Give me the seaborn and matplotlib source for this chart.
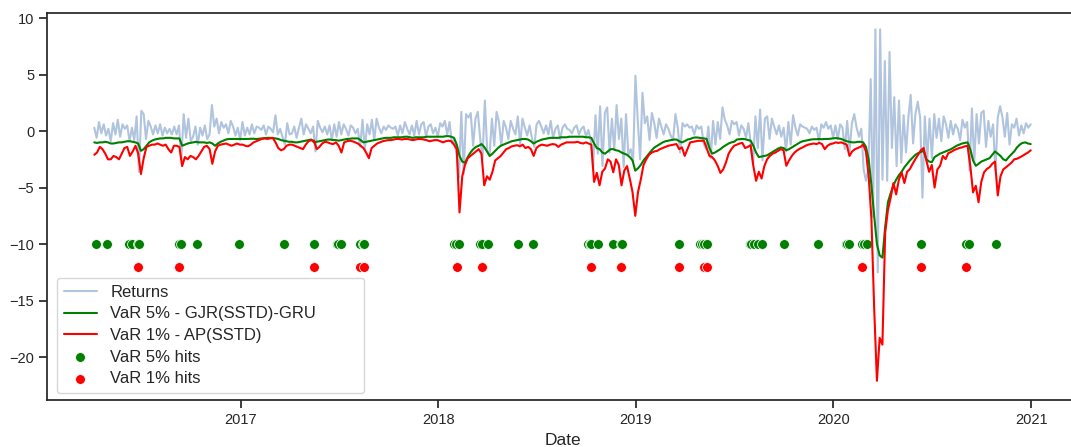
import pandas as pd
import seaborn as sns
import matplotlib.pyplot as plt

# daily returns: 7 samples per month, Apr 2016 .. Dec 2020
ret_2016 = [0.3, -0.6, 0.8, -0.2, 0.6, -0.4, 0.2,
            -0.9, 0.7, -0.3, 1.0, -0.5, 0.6, 0.2,
            0.5, -0.9, 0.3, -0.8, 1.3, -3.6, 1.8,
            1.5, -0.7, 0.9, 0.4, -0.3, 0.5, -0.2,
            0.6, -0.4, 0.3, -0.2, 0.2, -0.3, 0.4,
            -0.3, 0.5, -2.5, 1.5, -0.6, 1.1, -0.9,
            -0.5, 0.4, -1.2, 0.3, -0.4, 0.5, -0.7,
            -0.3, 2.3, 0.4, 1.1, -0.2, 0.8, 0.3,
            0.6, -0.2, 0.9, 0.4, -0.4, 0.3, -0.8]
ret_2017 = [0.8, -0.4, 0.3, -0.3, 0.6, -0.2, 0.4,
            0.3, 0.1, 0.5, -0.3, 0.4, 0.2, -0.1,
            1.4, -0.3, 0.2, -0.5, -1.2, 0.7, -0.3,
            -0.2, 0.4, -0.6, 0.3, 1.1, -0.3, 0.6,
            0.2, -0.2, 0.4, -1.8, 0.9, 0.3, -0.1,
            0.4, -0.3, 0.5, -0.8, 0.6, -0.5, 0.8,
            -0.3, 0.6, 0.2, -0.4, 0.5, 0.3, -0.2,
            0.2, -1.4, 1.0, -1.6, 0.6, -0.3, 1.0,
            -0.8, 1.1, 0.3, -0.2, 0.4, 0.1, 0.5,
            0.3, 0.2, 0.4, -0.4, 0.5, -0.2, 0.8,
            0.2, -0.3, 0.5, -0.4, 0.9, -0.3, 0.6,
            0.8, -0.5, 0.4, 0.6, -0.2, 0.3, -0.5]
ret_2018 = [0.7, 0.4, 0.9, -0.3, 0.8, -1.1, -0.7,
            -2.1, -4.1, 1.7, -3.8, 1.5, 1.2, 1.6,
            -1.3, 1.1, 1.7, -0.6, -2.5, 2.7, -1.7,
            -2.2, 1.1, -1.3, 1.7, 0.8, -1.3, 0.9,
            0.3, -0.7, 0.9, 0.2, -0.3, 1.3, -1.2,
            1.1, 0.3, -0.4, 0.5, -0.6, -1.4, 0.6,
            0.9, 0.4, -0.2, 0.5, -0.3, 0.9, -0.6,
            0.2, 0.5, -0.7, 0.3, 0.6, 0.2, 0.1,
            -0.2, 0.3, 0.5, -0.3, 0.2, 0.4, -0.5,
            0.1, -0.8, -3.3, 1.4, -2.0, 2.2, -3.1,
            1.6, 2.1, -1.9, 1.1, -1.7, 2.3, -0.7,
            1.1, -3.2, 1.5, -2.1, -1.6, -2.7, 4.9]
ret_2019 = [0.9, -2.5, 3.4, 0.7, 1.3, -0.8, 1.6,
            0.7, -0.6, 1.1, 0.4, -0.3, 0.6, 0.2,
            -0.4, -0.8, 1.5, 0.3, -1.9, 0.7, 0.4,
            0.6, 0.3, 0.4, -0.3, 0.5, 0.2, 0.4,
            -1.1, -1.6, 0.4, -2.4, 0.9, -1.2, 0.8,
            -0.7, 2.1, 1.0, 0.5, -0.3, 0.9, 0.6,
            0.8, -0.4, 0.5, 0.2, -0.6, 0.7, -1.1,
            -3.0, 1.3, -1.5, 1.9, -2.6, 1.1, 1.3,
            -0.7, 1.1, 0.4, -0.3, 0.5, -0.5, 0.3,
            -1.8, 0.8, -1.2, 1.4, 0.3, -0.4, 0.6,
            0.4, 0.3, 0.2, -0.2, 0.4, 0.1, 0.3,
            -0.9, 0.6, 0.3, 0.8, 0.2, 0.5, -0.6]
ret_2020 = [0.5, -0.7, 0.6, 0.3, -1.6, 0.9, -1.8,
            0.7, 1.5, 0.3, -0.5, 0.2, -3.4, -4.4,
            -3.4, 4.6, -7.6, 9.0, -12.5, 9.0, -4.3,
            6.2, -4.4, 7.0, -1.5, 3.0, -3.1, 2.7,
            -2.8, 1.4, -1.9, 1.2, 3.2, -1.1, 1.5,
            2.6, 1.2, -5.9, 1.3, -2.6, 1.1, -2.4,
            1.5, -0.6, 1.1, -0.9, 1.3, 0.6, -0.6,
            0.9, -0.3, 0.6, 0.2, -0.8, 1.0, 0.3,
            0.8, -3.5, 2.0, -2.8, 1.5, -1.1, 1.6,
            1.8, -1.4, 0.9, -0.5, 0.6, -3.5, 1.2,
            2.2, 1.2, -0.5, 1.6, -1.2, 0.6, 0.3,
            1.1, -0.4, 0.5, -0.2, 0.7, 0.3, 0.6]

# VaR 5% - GJR(SSTD)-GRU, 6 samples per month
var5_2016 = [-1.0, -1.05, -1.0, -1.0, -0.95, -1.0,
             -1.1, -1.1, -1.05, -1.0, -1.0, -0.95,
             -0.9, -0.9, -0.95, -1.0, -1.1, -1.75,
             -1.6, -1.3, -1.0, -0.85, -0.75, -0.7,
             -0.65, -0.65, -0.6, -0.6, -0.6, -0.65,
             -0.65, -0.65, -1.3, -1.2, -1.1, -1.05,
             -1.0, -0.95, -1.0, -1.0, -1.0, -1.05,
             -1.0, -1.1, -1.3, -1.1, -0.95, -0.85,
             -0.75, -0.7, -0.7, -0.7, -0.7, -0.7]
var5_2017 = [-0.7, -0.7, -0.7, -0.68, -0.68, -0.7,
             -0.68, -0.65, -0.62, -0.6, -0.6, -0.62,
             -0.65, -0.7, -0.8, -0.85, -0.9, -0.95,
             -0.95, -1.0, -1.0, -0.95, -0.9, -0.85,
             -0.8, -0.75, -1.0, -0.95, -0.9, -0.85,
             -0.8, -0.75, -0.75, -0.8, -0.8, -0.85,
             -0.8, -0.75, -0.7, -0.68, -0.65, -0.65,
             -0.65, -0.8, -1.0, -0.95, -0.9, -0.85,
             -0.8, -0.75, -0.7, -0.65, -0.6, -0.6,
             -0.6, -0.55, -0.55, -0.55, -0.55, -0.5,
             -0.5, -0.55, -0.6, -0.55, -0.55, -0.55,
             -0.55, -0.5, -0.5, -0.5, -0.5, -0.5]
var5_2018 = [-0.5, -0.5, -0.45, -0.45, -0.5, -0.6,
             -1.2, -2.2, -2.7, -2.8, -2.3, -1.9,
             -1.6, -1.4, -1.3, -1.15, -1.4, -1.8,
             -2.2, -2.0, -1.75, -1.5, -1.3, -1.2,
             -1.1, -1.0, -0.9, -0.85, -0.8, -0.75,
             -0.7, -0.7, -0.75, -0.9, -1.1, -0.95,
             -0.85, -0.75, -0.7, -0.65, -0.6, -0.6,
             -0.6, -0.6, -0.55, -0.55, -0.55, -0.5,
             -0.5, -0.5, -0.5, -0.5, -0.5, -0.55,
             -0.55, -0.6, -1.1, -1.5, -1.6, -1.9,
             -2.0, -1.8, -1.6, -1.6, -1.7, -1.75,
             -1.9, -2.0, -2.1, -2.3, -2.6, -3.5]
var5_2019 = [-3.3, -3.0, -2.6, -2.3, -2.0, -1.7,
             -1.45, -1.3, -1.15, -1.0, -0.9, -0.85,
             -0.8, -0.75, -0.75, -0.9, -1.0, -0.9,
             -0.75, -0.7, -0.6, -0.56, -0.58, -0.62,
             -0.65, -0.7, -1.5, -2.0, -1.9, -1.75,
             -1.6, -1.4, -1.25, -1.1, -1.0, -0.95,
             -0.75, -0.72, -0.7, -0.72, -0.78, -0.85,
             -1.3, -1.9, -2.3, -2.25, -2.2, -2.15,
             -2.0, -1.85, -1.7, -1.55, -1.45, -1.5,
             -1.7, -1.6, -1.45, -1.3, -1.15, -1.0,
             -0.9, -0.85, -0.8, -0.75, -0.72, -0.72,
             -0.7, -0.72, -0.7, -0.7, -0.68, -0.65]
var5_2020 = [-0.62, -0.65, -0.7, -0.8, -0.9, -0.95,
             -1.0, -1.0, -0.95, -0.95, -1.0, -1.4,
             -2.5, -4.8, -7.5, -10.0, -11.0, -11.2,
             -8.5, -6.3, -5.5, -4.8, -4.3, -3.9,
             -3.6, -3.2, -2.9, -2.6, -2.35, -2.1,
             -1.95, -1.85, -1.75, -2.5, -2.7, -2.75,
             -2.3, -2.15, -2.0, -1.9, -1.8, -1.7,
             -1.6, -1.45, -1.3, -1.2, -1.1, -1.05,
             -1.0, -1.6, -2.6, -3.07, -2.9, -2.7,
             -2.6, -2.5, -2.4, -2.1, -1.8, -2.0,
             -2.2, -2.5, -2.6, -2.3, -2.05, -1.8,
             -1.45, -1.2, -1.05, -1.0, -1.1, -1.15]

# VaR 1% - AP(SSTD), 6 samples per month
var1_2016 = [-2.1, -1.9, -1.4, -1.6, -2.0, -2.5,
             -2.5, -2.2, -2.3, -2.5, -2.0, -1.5,
             -1.4, -2.2, -1.8, -1.3, -2.0, -3.8,
             -2.4, -1.4, -1.3, -1.2, -1.2, -1.1,
             -1.2, -1.3, -1.2, -1.6, -1.9, -1.3,
             -1.3, -1.4, -3.1, -2.3, -2.5, -2.2,
             -2.3, -2.5, -2.2, -1.8, -1.4, -1.3,
             -1.6, -2.9, -1.8, -1.3, -1.2, -1.15,
             -1.1, -1.2, -1.3, -1.2, -1.1, -1.2]
var1_2017 = [-1.2, -1.3, -1.35, -1.2, -1.0, -0.9,
             -0.8, -0.7, -0.65, -0.7, -0.65, -0.6,
             -1.0, -1.5, -1.7, -1.6, -1.3, -1.2,
             -1.2, -1.3, -1.4, -1.5, -1.6, -1.2,
             -0.9, -0.8, -0.85, -1.6, -1.4, -1.1,
             -0.95, -1.0, -1.1, -1.15, -1.0, -1.3,
             -1.9, -1.0, -0.9, -0.85, -0.9, -1.0,
             -1.1, -1.3, -1.5, -1.9, -2.4, -1.5,
             -1.3, -1.1, -1.0, -0.9, -0.85, -0.8,
             -0.8, -0.75, -0.7, -0.7, -0.75, -0.7,
             -0.7, -0.75, -0.8, -0.75, -0.7, -0.7,
             -0.75, -0.8, -0.9, -0.85, -0.8, -0.8]
var1_2018 = [-0.9, -1.0, -0.9, -0.85, -0.9, -1.2,
             -1.6, -7.2, -4.0, -3.0, -2.4, -2.2,
             -2.0, -1.8, -1.6, -2.0, -4.8, -4.0,
             -4.3, -3.6, -2.6, -2.4, -2.2, -1.9,
             -1.6, -1.5, -1.35, -1.3, -1.25, -1.35,
             -1.2, -1.5, -1.4, -1.6, -2.2, -1.5,
             -1.3, -1.2, -1.25, -1.3, -1.2, -1.15,
             -1.2, -1.4, -1.2, -1.1, -1.0, -1.0,
             -1.0, -1.0, -0.95, -1.05, -1.1, -1.0,
             -1.1, -1.2, -4.5, -3.7, -4.8, -3.6,
             -3.3, -2.5, -2.7, -3.65, -2.5, -3.0,
             -4.8, -3.5, -3.1, -4.2, -5.4, -7.5]
var1_2019 = [-5.4, -4.3, -3.0, -2.5, -2.1, -1.9,
             -1.8, -1.75, -1.6, -1.5, -1.4, -1.3,
             -1.25, -1.2, -1.15, -1.6, -1.44, -2.2,
             -1.6, -1.0, -0.95, -0.9, -0.86, -0.86,
             -0.86, -1.5, -2.2, -2.3, -2.6, -3.07,
             -3.7, -3.4, -2.8, -2.0, -1.6, -1.3,
             -1.2, -1.1, -1.05, -1.5, -1.4, -1.25,
             -3.1, -4.4, -3.6, -4.2, -3.1, -2.5,
             -2.2, -2.0, -1.9, -1.75, -1.6, -1.7,
             -3.07, -2.6, -2.2, -1.9, -1.7, -1.55,
             -1.44, -1.3, -1.2, -1.15, -1.1, -1.15,
             -1.05, -1.15, -1.6, -1.3, -1.15, -1.1]
var1_2020 = [-1.0, -1.05, -1.0, -1.1, -1.2, -2.2,
             -1.8, -1.6, -1.5, -1.4, -1.2, -1.8,
             -4.0, -7.8, -15.7, -22.1, -18.3, -18.9,
             -9.0, -7.0, -5.9, -4.6, -5.6, -4.3,
             -3.65, -4.6, -3.6, -3.36, -2.9, -2.48,
             -2.1, -1.7, -1.5, -2.6, -3.6, -3.0,
             -5.0, -3.4, -3.07, -2.2, -2.48, -1.95,
             -1.85, -1.7, -1.59, -1.5, -1.44, -1.35,
             -1.3, -3.07, -5.43, -4.84, -6.3, -4.5,
             -3.65, -3.36, -3.2, -2.9, -2.7, -5.7,
             -4.0, -3.4, -3.2, -3.0, -2.8, -2.5,
             -2.45, -2.33, -2.2, -2.04, -1.9, -1.7]

# days where the return broke through the VaR
hits5 = ['2016-04-08', '2016-04-28', '2016-06-08', '2016-06-13', '2016-06-24',
         '2016-06-27', '2016-09-09', '2016-09-13', '2016-10-11', '2016-12-28',
         '2017-03-21', '2017-05-17', '2017-06-27', '2017-06-29', '2017-07-06',
         '2017-08-10', '2017-08-14', '2017-08-17',
         '2018-01-30', '2018-02-02', '2018-02-08', '2018-03-19', '2018-03-22',
         '2018-04-02', '2018-05-29', '2018-06-25', '2018-10-04', '2018-10-08',
         '2018-10-10', '2018-10-24', '2018-11-19', '2018-12-04', '2018-12-07',
         '2019-03-22', '2019-04-29', '2019-05-03', '2019-05-07', '2019-05-13',
         '2019-07-31', '2019-08-02', '2019-08-08', '2019-08-14', '2019-08-23',
         '2019-10-02', '2019-12-03', '2020-01-24', '2020-01-27', '2020-01-31',
         '2020-02-24', '2020-02-27', '2020-03-03', '2020-06-11', '2020-09-03',
         '2020-09-08', '2020-10-28']
hits1 = ['2016-06-24', '2016-09-09', '2017-05-17', '2017-08-10', '2017-08-17',
         '2018-02-05', '2018-03-22', '2018-10-10', '2018-12-04', '2019-03-22',
         '2019-05-07', '2019-05-13', '2020-02-24', '2020-06-11', '2020-09-03']
HIT5_LEVEL = -10
HIT1_LEVEL = -12

returns = ret_2016 + ret_2017 + ret_2018 + ret_2019 + ret_2020
var5 = var5_2016 + var5_2017 + var5_2018 + var5_2019 + var5_2020
var1 = var1_2016 + var1_2017 + var1_2018 + var1_2019 + var1_2020

ret_dates = pd.date_range('2016-04-05', '2020-12-31', periods=len(returns))
var_dates = pd.date_range('2016-04-05', '2020-12-31', periods=len(var5))
h5 = pd.to_datetime(hits5)
h1 = pd.to_datetime(hits1)

sns.set_theme(style='ticks')
plt.rcParams['font.family'] = ['Liberation Sans', 'DejaVu Sans']

fig = plt.figure(figsize=(10.71, 4.47), dpi=100)
ax = fig.add_axes([0.0443, 0.1051, 0.9618, 0.8651])

sns.lineplot(x=ret_dates, y=returns, color='lightsteelblue', label='Returns', ax=ax)
sns.lineplot(x=var_dates, y=var5, color='green', label='VaR 5% - GJR(SSTD)-GRU', ax=ax)
sns.lineplot(x=var_dates, y=var1, color='red', label='VaR 1% - AP(SSTD)', ax=ax)
sns.scatterplot(x=h5, y=[HIT5_LEVEL] * len(h5), color='green', s=50,
                label='VaR 5% hits', ax=ax)
sns.scatterplot(x=h1, y=[HIT1_LEVEL] * len(h1), color='red', s=50,
                label='VaR 1% hits', ax=ax)

ax.set_ylim(-23.8, 10.42)
ax.set_xlabel('Date', fontsize=12.5)
ax.set_ylabel('')
ax.tick_params(labelsize=10.5)
ax.legend(loc='lower left', bbox_to_anchor=(0.0092, 0.018, 0.298, 0.3),
          mode='expand', borderaxespad=0, fontsize=12, labelspacing=0.4)

fig.savefig('out.png', dpi=100)
